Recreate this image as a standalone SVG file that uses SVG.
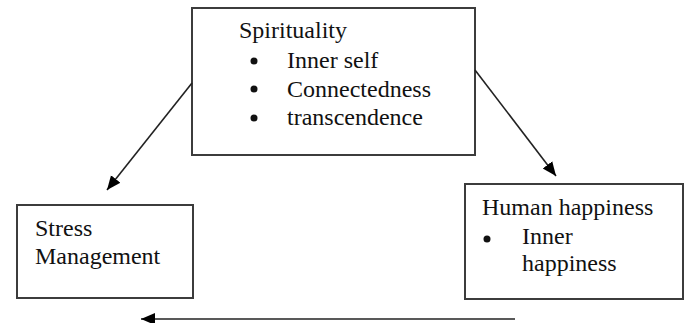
<svg xmlns="http://www.w3.org/2000/svg" width="688" height="323" viewBox="0 0 688 323">
<style>
.box{fill:#fff;stroke:#3c3c3c;stroke-width:2}
.t{font-family:"Liberation Serif","Times New Roman",serif;font-size:24px;fill:#111}
.c{stroke:#222;stroke-width:1.6;fill:none}
</style>
<defs>
<marker id="ah" markerUnits="userSpaceOnUse" markerWidth="16" markerHeight="14" refX="14" refY="7" orient="auto">
<path d="M0,1 L14,7 L0,13 Z" fill="#000"/>
</marker>
</defs>
<rect width="688" height="323" fill="#fff"/>
<g id="spirituality">
<rect class="box" x="192" y="8" width="283" height="147"/>
<text class="t" x="239" y="38">Spirituality</text>
<circle cx="254" cy="61" r="3.5" fill="#111"/>
<circle cx="254" cy="89" r="3.5" fill="#111"/>
<circle cx="254" cy="118" r="3.5" fill="#111"/>
<text class="t" x="287" y="68">Inner self</text>
<text class="t" x="287" y="97">Connectedness</text>
<text class="t" x="287" y="125">transcendence</text>
</g>
<g id="stress">
<rect class="box" x="17" y="205" width="176" height="93"/>
<text class="t" x="35" y="236">Stress</text>
<text class="t" x="35" y="264">Management</text>
</g>
<g id="happiness">
<rect class="box" x="465" y="184" width="218" height="115"/>
<text class="t" x="482" y="215">Human happiness</text>
<circle cx="487" cy="239" r="3.5" fill="#111"/>
<text class="t" x="522" y="244">Inner</text>
<text class="t" x="522" y="271">happiness</text>
</g>
<g id="connectors">
<line class="c" x1="192" y1="83" x2="107" y2="190" marker-end="url(#ah)"/>
<line class="c" x1="475" y1="70" x2="556" y2="176" marker-end="url(#ah)"/>
<line class="c" x1="515" y1="319" x2="141" y2="319" marker-end="url(#ah)"/>
</g>
</svg>
